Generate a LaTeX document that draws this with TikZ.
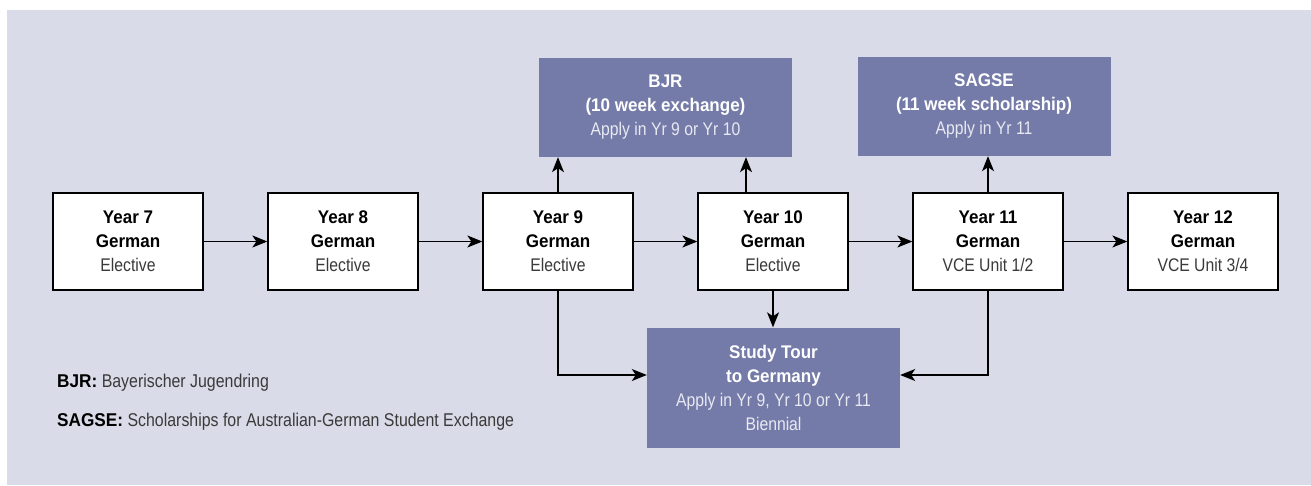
\documentclass[tikz,border=0pt]{standalone}
\usepackage{fontspec}
\setmainfont{Liberation Sans}[FakeStretch=0.86, BoldFeatures={FakeStretch=0.93}]
\usetikzlibrary{positioning,arrows.meta}
\definecolor{paneBg}{RGB}{217,219,232}
\definecolor{tripBlue}{RGB}{116,123,168}
\definecolor{softGrey}{RGB}{58,58,58}
\definecolor{paleText}{RGB}{232,233,242}

\begin{document}
\begin{tikzpicture}[x=1pt,y=-1pt,
    every node/.style={font=\fontsize{18.3}{24}\selectfont, align=center, inner sep=0pt},
    yearbox/.style={draw=black, line width=1.3pt, fill=white, text=softGrey,
        minimum width=150pt, minimum height=97pt},
    tripbox/.style={fill=tripBlue, text=paleText, minimum width=253pt, minimum height=99pt},
    link/.style={-{Stealth[length=15pt,width=12pt,inset=4pt]}, line width=1.1pt},
    node distance=63.7pt]
    \useasboundingbox (0,0) rectangle (1311,485);
    \fill[paneBg] (7,10) rectangle (1311,485);

    \node[yearbox] (y7) at (128,241.5) {\textbf{\color{black}Year 7}\\\textbf{\color{black}German}\\Elective};
    \node[yearbox] (y8) [right=of y7] {\textbf{\color{black}Year 8}\\\textbf{\color{black}German}\\Elective};
    \node[yearbox] (y9) [right=of y8] {\textbf{\color{black}Year 9}\\\textbf{\color{black}German}\\Elective};
    \node[yearbox] (y10) [right=of y9] {\textbf{\color{black}Year 10}\\\textbf{\color{black}German}\\Elective};
    \node[yearbox] (y11) [right=of y10] {\textbf{\color{black}Year 11}\\\textbf{\color{black}German}\\VCE Unit 1/2};
    \node[yearbox] (y12) [right=of y11] {\textbf{\color{black}Year 12}\\\textbf{\color{black}German}\\VCE Unit 3/4};

    \node[tripbox] (bjr) at (665.5,107.5) {\textbf{\color{white}BJR}\\\textbf{\color{white}(10 week exchange)}\\Apply in Yr 9 or Yr 10};
    \node[tripbox] (sagse) at (984,106.5) {\textbf{\color{white}SAGSE}\\\textbf{\color{white}(11 week scholarship)}\\Apply in Yr 11};
    \node[tripbox, minimum height=120pt] (study) at (773.5,387.5) {\textbf{\color{white}Study Tour}\\\textbf{\color{white}to Germany}\\Apply in Yr 9, Yr 10 or Yr 11\\Biennial};

    \node[anchor=base west, text=softGrey, font=\fontsize{18.5}{24}\selectfont] (keyBjr) at (57,387) {\textbf{\color{black}BJR:} Bayerischer Jugendring};
    \node[anchor=base west, text=softGrey, font=\fontsize{18.5}{24}\selectfont] (keySagse) at (57,426) {\textbf{\color{black}SAGSE:} Scholarships for Australian-German Student Exchange};

    \draw[link] (y7) -- (y8);
    \draw[link] (y8) -- (y9);
    \draw[link] (y9) -- (y10);
    \draw[link] (y10) -- (y11);
    \draw[link] (y11) -- (y12);
    \draw[link] (y9) -- (y9 |- bjr.south);
    \draw[link] ([xshift=-27pt]y10.north) -- ([xshift=-27pt]y10.north |- bjr.south);
    \draw[link] (y11) -- (y11 |- sagse.south);
    \draw[link] (y10) -- (y10 |- study.north);
    \draw[link] (y9.south) |- ([yshift=12.5pt]study.west);
    \draw[link] (y11.south) |- ([yshift=12.5pt]study.east);
\end{tikzpicture}
\end{document}
